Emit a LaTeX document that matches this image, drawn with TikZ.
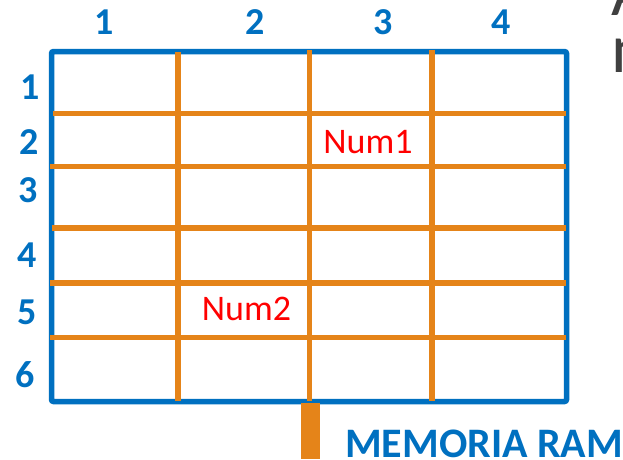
\documentclass[tikz,border=0pt]{standalone}
\usepackage{fontspec}
\setmainfont{Carlito}
\definecolor{ramblue}{RGB}{0,112,192}
\definecolor{ramorange}{RGB}{229,132,25}
\definecolor{ramred}{RGB}{255,0,0}
\definecolor{ramgray}{RGB}{64,64,64}
\begin{document}
\begin{tikzpicture}[x=1pt,y=-1pt,
  frame/.style={draw=ramblue,line width=5.5pt,rounded corners=2pt},
  gridline/.style={draw=ramorange,line width=5.5pt},
  idx/.style={text=ramblue,font=\fontsize{38}{42}\selectfont\bfseries,inner sep=0pt},
  numlabel/.style={text=ramred,font=\fontsize{36}{40}\selectfont,inner sep=0pt},
  title/.style={text=ramblue,font=\fontsize{42}{46}\selectfont\bfseries,inner sep=0pt,anchor=base west},
  side/.style={text=ramgray,font=\fontsize{70}{75}\selectfont,inner sep=0pt,anchor=base west}]
\useasboundingbox (0,0) rectangle (623,459);
% outer frame
\draw[frame] (51.5,51.5) rectangle (566.5,401.5);
% horizontal lines
\draw[gridline] (53,113.5) -- (566,113.5);
\draw[gridline] (50,166.5) -- (566,166.5);
\draw[gridline] (52,228) -- (566,228);
\draw[gridline] (50,283) -- (566,283);
\draw[gridline] (50,337.5) -- (566,337.5);
% vertical lines
\draw[gridline] (178,52) -- (178,401);
\draw[gridline] (309.5,50) -- (309.5,401);
\draw[gridline] (432,50) -- (432,401);
% thick bus bar
\fill[ramorange] (301,403) rectangle (320,459);
% column indices
\node[idx] (c1) at (104,22.5) {1};
\node[idx] (c2) at (255,22.5) {2};
\node[idx] (c3) at (383,22.5) {3};
\node[idx] (c4) at (501,22.5) {4};
% row indices
\node[idx] (r1) at (30,87.5) {1};
\node[idx] (r2) at (29,142.5) {2};
\node[idx] (r3) at (28,190) {3};
\node[idx] (r4) at (27,255) {4};
\node[idx] (r5) at (27,312) {5};
\node[idx] (r6) at (25,375) {6};
% cell contents
\node[numlabel] (num1) at (368,142.5) {Num1};
\node[numlabel] (num2) at (246.5,308.5) {Num2};
% caption
\node[title] (ram) at (345,457) {MEMORIA RAM};
% cut-off slide text at the right edge
\node[side] (sa) at (611,15) {A};
\node[side] (sn) at (611,72) {n};
\end{tikzpicture}
\end{document}
